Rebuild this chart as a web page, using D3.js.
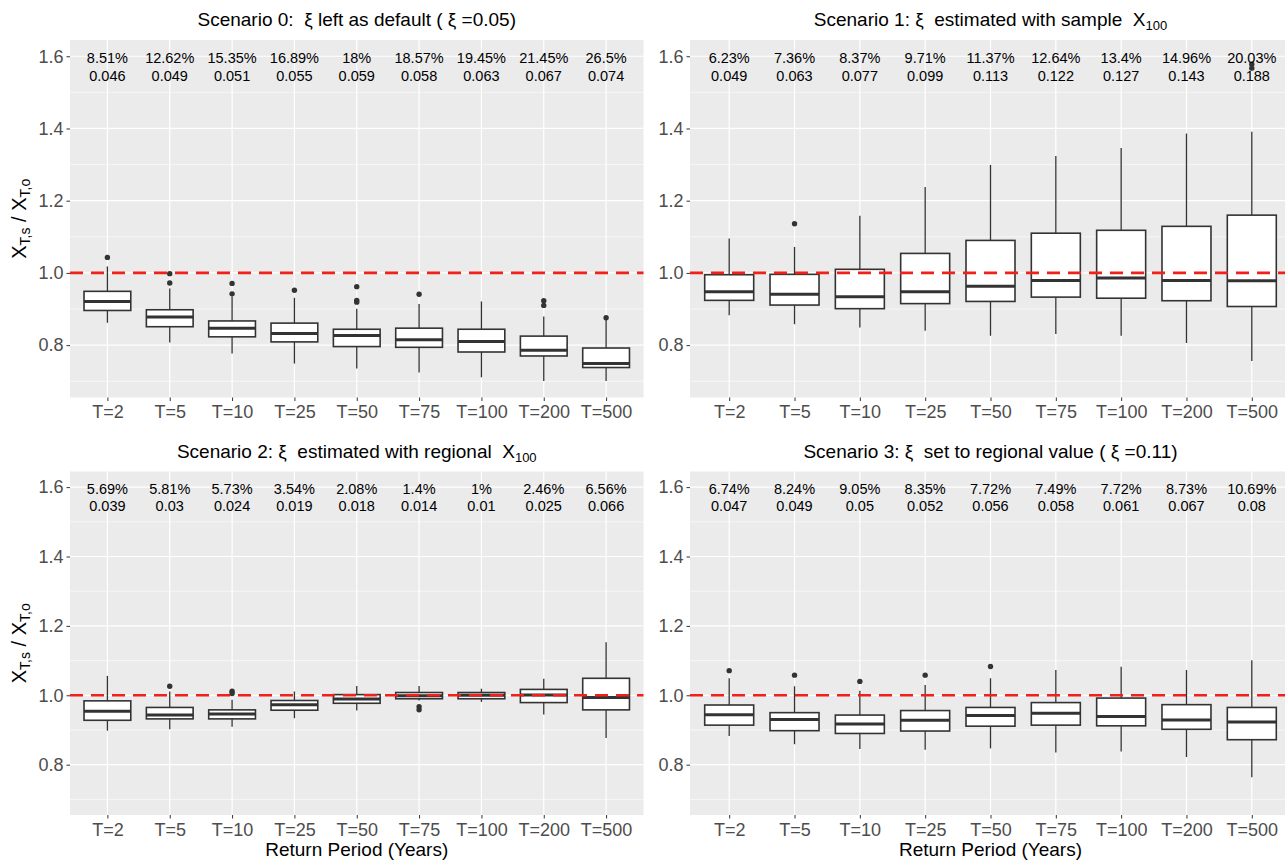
<!DOCTYPE html>
<html>
<head>
<meta charset="utf-8">
<script src="https://cdn.jsdelivr.net/npm/d3@7"></script>
<style>
  html, body { margin: 0; padding: 0; background: #ffffff; }
  svg { display: block; font-family: "Liberation Sans", Arial, Helvetica, sans-serif; }
  .ttl { white-space: pre; }
</style>
</head>
<body>
<svg id="chart" width="1285" height="863"></svg>
<script>
// ---------------- DATA ----------------
const categories = ["T=2","T=5","T=10","T=25","T=50","T=75","T=100","T=200","T=500"];
const yTicks = [0.8, 1.0, 1.2, 1.4, 1.6];
const yMinor = [0.7, 0.9, 1.1, 1.3, 1.5];
const refLine = 1.0;

// Scenario 0
const s0_lower  = [0.862, 0.807, 0.777, 0.749, 0.735, 0.724, 0.711, 0.701, 0.701];
const s0_q1     = [0.896, 0.851, 0.823, 0.809, 0.796, 0.794, 0.781, 0.770, 0.738];
const s0_median = [0.921, 0.878, 0.847, 0.832, 0.827, 0.815, 0.810, 0.786, 0.749];
const s0_q3     = [0.949, 0.898, 0.867, 0.861, 0.844, 0.847, 0.844, 0.825, 0.792];
const s0_upper  = [1.018, 0.957, 0.935, 0.931, 0.901, 0.914, 0.921, 0.879, 0.870];
const s0_out    = [[1.043], [0.998, 0.972], [0.971, 0.942], [0.952], [0.962, 0.924, 0.919], [0.941], [], [0.923, 0.910], [0.876]];
const s0_pct    = ["8.51%","12.62%","15.35%","16.89%","18%","18.57%","19.45%","21.45%","26.5%"];
const s0_err    = ["0.046","0.049","0.051","0.055","0.059","0.058","0.063","0.067","0.074"];

// Scenario 1
const s1_lower  = [0.883, 0.858, 0.849, 0.840, 0.826, 0.831, 0.826, 0.806, 0.756];
const s1_q1     = [0.924, 0.911, 0.901, 0.915, 0.921, 0.933, 0.930, 0.923, 0.907];
const s1_median = [0.948, 0.941, 0.934, 0.948, 0.963, 0.979, 0.986, 0.979, 0.978];
const s1_q3     = [0.995, 0.996, 1.010, 1.054, 1.090, 1.110, 1.118, 1.129, 1.160];
const s1_upper  = [1.095, 1.072, 1.158, 1.238, 1.299, 1.324, 1.346, 1.386, 1.391];
const s1_out    = [[], [1.136], [], [], [], [], [], [], [1.578, 1.567]];
const s1_pct    = ["6.23%","7.36%","8.37%","9.71%","11.37%","12.64%","13.4%","14.96%","20.03%"];
const s1_err    = ["0.049","0.063","0.077","0.099","0.113","0.122","0.127","0.143","0.188"];

// Scenario 2
const s2_lower  = [0.898, 0.902, 0.909, 0.934, 0.956, 0.985, 0.981, 0.945, 0.877];
const s2_q1     = [0.928, 0.932, 0.932, 0.957, 0.977, 0.990, 0.990, 0.979, 0.958];
const s2_median = [0.954, 0.943, 0.946, 0.973, 0.989, 0.999, 1.000, 1.001, 0.994];
const s2_q3     = [0.984, 0.965, 0.958, 0.985, 1.002, 1.008, 1.008, 1.017, 1.049];
const s2_upper  = [1.056, 1.011, 0.987, 1.011, 1.027, 1.027, 1.019, 1.048, 1.153];
const s2_out    = [[], [1.026], [1.012, 1.005], [], [], [0.967, 0.958], [], [], []];
const s2_pct    = ["5.69%","5.81%","5.73%","3.54%","2.08%","1.4%","1%","2.46%","6.56%"];
const s2_err    = ["0.039","0.03","0.024","0.019","0.018","0.014","0.01","0.025","0.066"];

// Scenario 3
const s3_lower  = [0.883, 0.859, 0.845, 0.843, 0.847, 0.835, 0.838, 0.822, 0.764];
const s3_q1     = [0.914, 0.898, 0.890, 0.897, 0.911, 0.914, 0.912, 0.902, 0.872];
const s3_median = [0.944, 0.930, 0.917, 0.928, 0.942, 0.948, 0.939, 0.929, 0.923];
const s3_q3     = [0.972, 0.950, 0.943, 0.956, 0.965, 0.979, 0.992, 0.973, 0.965];
const s3_upper  = [1.049, 1.026, 1.013, 1.030, 1.049, 1.073, 1.082, 1.073, 1.101];
const s3_out    = [[1.071], [1.058], [1.040], [1.058], [1.083], [], [], [], []];
const s3_pct    = ["6.74%","8.24%","9.05%","8.35%","7.72%","7.49%","7.72%","8.73%","10.69%"];
const s3_err    = ["0.047","0.049","0.05","0.052","0.056","0.058","0.061","0.067","0.08"];

// ---------------- LAYOUT ----------------
const panels = [
  { title: [["Scenario 0:  \u03BE left as default ( \u03BE =0.05)", null]],
    lower: s0_lower, q1: s0_q1, median: s0_median, q3: s0_q3, upper: s0_upper, out: s0_out, pct: s0_pct, err: s0_err,
    x0: 70, x1: 643.5, y0: 40, y1: 397.5, yTitle: true, xTitle: false },
  { title: [["Scenario 1: \u03BE  estimated with sample  X", null], ["100", "sub"]],
    lower: s1_lower, q1: s1_q1, median: s1_median, q3: s1_q3, upper: s1_upper, out: s1_out, pct: s1_pct, err: s1_err,
    x0: 690, x1: 1291, y0: 40, y1: 397.5, yTitle: false, xTitle: false },
  { title: [["Scenario 2: \u03BE  estimated with regional  X", null], ["100", "sub"]],
    lower: s2_lower, q1: s2_q1, median: s2_median, q3: s2_q3, upper: s2_upper, out: s2_out, pct: s2_pct, err: s2_err,
    x0: 70, x1: 643.5, y0: 471.5, y1: 815, yTitle: true, xTitle: true },
  { title: [["Scenario 3: \u03BE  set to regional value ( \u03BE =0.11)", null]],
    lower: s3_lower, q1: s3_q1, median: s3_median, q3: s3_q3, upper: s3_upper, out: s3_out, pct: s3_pct, err: s3_err,
    x0: 690, x1: 1291, y0: 471.5, y1: 815, yTitle: false, xTitle: true }
];

const svg = d3.select("#chart");
svg.append("rect").attr("width", 1285).attr("height", 863).attr("fill", "#ffffff");

const BOX_STROKE = "#333333";
const TICK_COL = "#4D4D4D";

panels.forEach(p => {
  const x = d3.scalePoint().domain(categories).range([p.x0, p.x1]).padding(0.6);
  const y = d3.scaleLinear().domain([0.655, 1.645]).range([p.y1, p.y0]);
  const step = x.step();
  const bw = step * 0.75;
  const g = svg.append("g");

  // panel background
  g.append("rect").attr("x", p.x0).attr("y", p.y0)
    .attr("width", p.x1 - p.x0).attr("height", p.y1 - p.y0).attr("fill", "#EBEBEB");

  // minor grid
  g.selectAll(".minor").data(yMinor).join("line")
    .attr("x1", p.x0).attr("x2", p.x1)
    .attr("y1", d => y(d)).attr("y2", d => y(d))
    .attr("stroke", "#ffffff").attr("stroke-width", 0.6);
  // major grid
  g.selectAll(".majorY").data(yTicks).join("line")
    .attr("x1", p.x0).attr("x2", p.x1)
    .attr("y1", d => y(d)).attr("y2", d => y(d))
    .attr("stroke", "#ffffff").attr("stroke-width", 1.2);
  g.selectAll(".majorX").data(categories).join("line")
    .attr("x1", d => x(d)).attr("x2", d => x(d))
    .attr("y1", p.y0).attr("y2", p.y1)
    .attr("stroke", "#ffffff").attr("stroke-width", 1.2);

  // axes (ticks + labels) via d3 axis
  const yAxis = g.append("g").attr("transform", `translate(${p.x0},0)`)
    .call(d3.axisLeft(y).tickValues(yTicks).tickFormat(d3.format(".1f")).tickSize(3.5).tickPadding(3));
  yAxis.select(".domain").remove();
  yAxis.selectAll("line").attr("stroke", "#333333").attr("stroke-width", 1);
  yAxis.selectAll("text").attr("fill", TICK_COL).style("font-size", "18px")
    .style("font-family", '"Liberation Sans", Arial, sans-serif');

  const xAxis = g.append("g").attr("transform", `translate(0,${p.y1})`)
    .call(d3.axisBottom(x).tickSize(3.5).tickPadding(3));
  xAxis.select(".domain").remove();
  xAxis.selectAll("line").attr("stroke", "#333333").attr("stroke-width", 1);
  xAxis.selectAll("text").attr("fill", TICK_COL).style("font-size", "18px")
    .style("font-family", '"Liberation Sans", Arial, sans-serif').attr("dy", "0.78em");

  const rows = categories.map((c, i) => ({
    c, lo: p.lower[i], q1: p.q1[i], med: p.median[i], q3: p.q3[i], hi: p.upper[i], out: p.out[i]
  }));

  const bx = g.append("g");
  // whiskers
  bx.selectAll(".wu").data(rows).join("line")
    .attr("x1", d => x(d.c)).attr("x2", d => x(d.c))
    .attr("y1", d => y(d.q3)).attr("y2", d => y(d.hi))
    .attr("stroke", BOX_STROKE).attr("stroke-width", 1.3);
  bx.selectAll(".wl").data(rows).join("line")
    .attr("x1", d => x(d.c)).attr("x2", d => x(d.c))
    .attr("y1", d => y(d.q1)).attr("y2", d => y(d.lo))
    .attr("stroke", BOX_STROKE).attr("stroke-width", 1.3);
  // boxes
  bx.selectAll(".box").data(rows).join("rect")
    .attr("x", d => x(d.c) - bw / 2).attr("width", bw)
    .attr("y", d => y(d.q3)).attr("height", d => y(d.q1) - y(d.q3))
    .attr("fill", "#ffffff").attr("stroke", BOX_STROKE).attr("stroke-width", 1.6);
  // medians
  bx.selectAll(".med").data(rows).join("line")
    .attr("x1", d => x(d.c) - bw / 2).attr("x2", d => x(d.c) + bw / 2)
    .attr("y1", d => y(d.med)).attr("y2", d => y(d.med))
    .attr("stroke", BOX_STROKE).attr("stroke-width", 3);
  // outliers
  const outs = [];
  rows.forEach(r => r.out.forEach(v => outs.push({ c: r.c, v })));
  bx.selectAll(".out").data(outs).join("circle")
    .attr("cx", d => x(d.c)).attr("cy", d => y(d.v)).attr("r", 2.7)
    .attr("fill", BOX_STROKE);

  // reference dashed line
  g.append("line").attr("x1", p.x0).attr("x2", p.x1)
    .attr("y1", y(refLine)).attr("y2", y(refLine))
    .attr("stroke", "#F0201A").attr("stroke-width", 2.6)
    .attr("stroke-dasharray", "13,8");

  // annotations
  const ann = g.append("g").attr("font-size", "14.5px").attr("fill", "#000").attr("text-anchor", "middle");
  ann.selectAll(".pct").data(categories).join("text")
    .attr("x", d => x(d)).attr("y", y(1.6) + 6.5)
    .text((d, i) => p.pct[i]);
  ann.selectAll(".err").data(categories).join("text")
    .attr("x", d => x(d)).attr("y", y(1.6) + 24.3)
    .text((d, i) => p.err[i]);

  // title
  const t = svg.append("text").attr("class", "ttl").attr("x", (p.x0 + p.x1) / 2)
    .attr("y", p.y0 - 14).attr("text-anchor", "middle")
    .attr("font-size", "19px").attr("fill", "#000");
  p.title.forEach(([s, kind]) => {
    const ts = t.append("tspan").text(s);
    if (kind === "sub") ts.attr("font-size", "13px").attr("baseline-shift", "-4");
  });

  // y-axis title
  if (p.yTitle) {
    const cy = (p.y0 + p.y1) / 2;
    const yt = svg.append("text").attr("class", "ttl").attr("transform", `translate(26,${cy}) rotate(-90)`)
      .attr("text-anchor", "middle").attr("font-size", "20px").attr("fill", "#000");
    yt.append("tspan").text("X");
    yt.append("tspan").text("T,s").attr("font-size", "14px").attr("baseline-shift", "-4");
    yt.append("tspan").text(" / X");
    yt.append("tspan").text("T,o").attr("font-size", "14px").attr("baseline-shift", "-4");
  }
  // x-axis title
  if (p.xTitle) {
    svg.append("text").attr("x", (p.x0 + p.x1) / 2).attr("y", 856)
      .attr("text-anchor", "middle").attr("font-size", "19px").attr("fill", "#000")
      .text("Return Period (Years)");
  }
});
</script>
</body>
</html>
